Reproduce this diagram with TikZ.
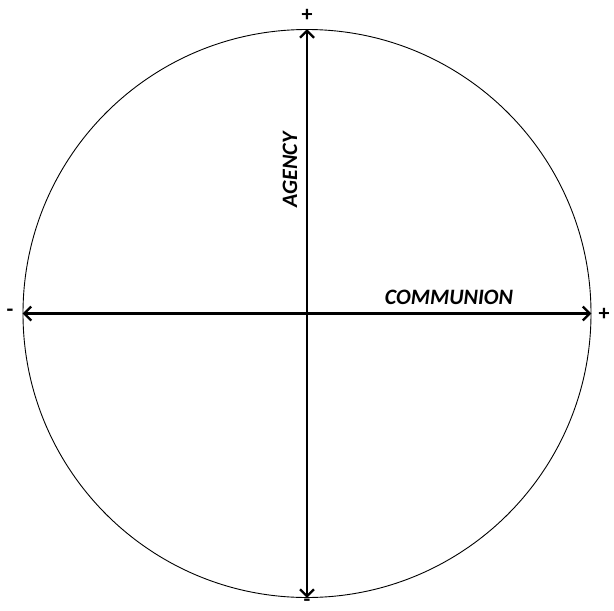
\documentclass[tikz,border=0pt]{standalone}
\usepackage{fontspec}
\setmainfont{Carlito}
\usetikzlibrary{arrows.meta, positioning}

\begin{document}
\begin{tikzpicture}[x=1pt, y=-1pt,
    axis/.style={line width=2.4pt, {Straight Barb[length=7pt,width=14pt]}-{Straight Barb[length=7pt,width=14pt]}},
    axislabel/.style={font=\fontsize{22}{22}\selectfont\bfseries\itshape, inner sep=0pt},
    sign/.style={font=\fontsize{22}{22}\selectfont\bfseries, inner sep=0pt}]
  \useasboundingbox (0,0) rectangle (614,611);
  % outer circle
  \node[draw, circle, line width=0.9pt, minimum size=568pt, inner sep=0pt] (ring) at (307,313.5) {};
  % axes
  \draw[axis] (ring.west) -- (ring.east);
  \draw[axis] (ring.south) -- (ring.north);
  % labels
  \node[axislabel, rotate=90] (agency) at (290,170) {AGENCY};
  \node[axislabel] (communion) at (449,297) {COMMUNION};
  % signs
  \node[sign] (top) at (307,15) {+};
  \node[sign] (right) at (604,314) {+};
  \node[sign] (left) at (10,313) {-};
  \node[sign] (bottom) at (307,603) {-};
\end{tikzpicture}
\end{document}
